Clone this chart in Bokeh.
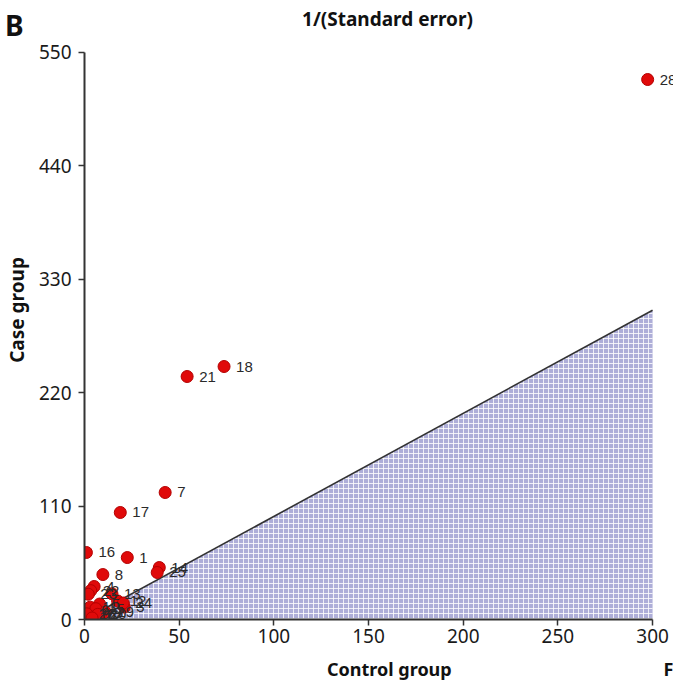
from bokeh.plotting import figure
from bokeh.models import ColumnDataSource, Range1d, FixedTicker, Label, LinearAxis
from bokeh.core.properties import value
from bokeh.embed import file_html
from bokeh.resources import INLINE

study_ids = [str(i) for i in range(1, 29)]
control_inv_se = [22.6, 4.5, 21.0, 5.1, 8.0, 2.5, 42.6, 9.7, 9.0, 1.5, 3.0, 17.5, 14.5, 39.5,
                  6.0, 1.0, 18.9, 73.7, 11.0, 7.0, 54.2, 3.3, 2.0, 20.5, 38.4, 1.2, 4.0, 297.4]
case_inv_se = [60.1, 4.0, 12.0, 32.0, 15.0, 9.0, 123.2, 43.6, 6.5, 2.0, 12.0, 18.0, 25.0, 50.4,
               10.5, 65.0, 103.8, 245.4, 7.0, 5.0, 235.7, 28.0, 24.5, 16.0, 45.6, 5.5, 1.5, 523.8]
x_ticks = [0, 50, 100, 150, 200, 250, 300]
y_ticks = [0, 110, 220, 330, 440, 550]
equal_line_x = [0, 300]
equal_line_y = [0, 300]

p = figure(width=673, height=684, output_backend="svg", toolbar_location=None,
           x_range=Range1d(0, 311.05), y_range=Range1d(0, 600.44),
           min_border_left=82, min_border_right=0, min_border_top=0, min_border_bottom=65)
p.outline_line_color = None
p.grid.visible = False
p.background_fill_color = "white"

# shaded region below the line of equality
p.patch(x=[equal_line_x[0], equal_line_x[1], equal_line_x[1]],
        y=[equal_line_y[0], equal_line_y[1], 0],
        fill_color="#aeaed8", line_color=None,
        hatch_pattern="+", hatch_color="white", hatch_scale=5, hatch_weight=1, hatch_alpha=0.8)
p.line(equal_line_x, equal_line_y, line_color="#333333", line_width=1.6)

src = ColumnDataSource(dict(x=control_inv_se, y=case_inv_se, lab=study_ids))
p.scatter("x", "y", source=src, size=12, fill_color="#e00a0a", line_color="#b30000", line_width=1)
p.text("x", "y", text="lab", source=src, x_offset=12, text_baseline="middle", text_align="left",
       text_font=value("Liberation Sans"), text_font_size="15px", text_color="#2a2a2a")

for ax in (p.xaxis[0], p.yaxis[0]):
    ax.axis_line_color = "#333333"
    ax.axis_line_width = 2
    ax.major_tick_line_color = "#333333"
    ax.major_tick_line_width = 1.5
    ax.major_tick_out = 6
    ax.major_tick_in = 0
    ax.minor_tick_line_color = None
    ax.major_label_text_font = "Noto Sans"
    ax.major_label_text_font_size = "19px"
    ax.major_label_text_color = "#1a1a1a"
    ax.axis_label_text_font = "Noto Sans"
    ax.axis_label_text_font_style = "bold"
    ax.axis_label_text_color = "#111111"

p.xaxis.bounds = (0, 300)
p.yaxis.bounds = (0, 550)
p.xaxis.ticker = FixedTicker(ticks=x_ticks)
p.yaxis.ticker = FixedTicker(ticks=y_ticks)
p.xaxis.major_label_standoff = 3
p.yaxis.major_label_standoff = 7
p.yaxis.axis_label = "Case group"
p.yaxis.axis_label_text_font_size = "19px"
p.yaxis.axis_label_standoff = 6

# outer left axis: carries the panel letter
letter_axis = LinearAxis(ticker=FixedTicker(ticks=[577]), major_label_overrides={577: "B"},
                         axis_line_color=None, major_tick_line_color=None, minor_tick_line_color=None,
                         major_tick_out=0, major_tick_in=0, major_label_standoff=-23,
                         major_label_text_font="Noto Sans", major_label_text_font_size="28px",
                         major_label_text_font_style="bold", major_label_text_color="#111111")
p.add_layout(letter_axis, "left")

# outer bottom axis: x title and the cut-off letter at the right edge
xtitle_axis = LinearAxis(ticker=FixedTicker(ticks=[161, 309]),
                         major_label_overrides={161: "Control group", 309: "F"},
                         axis_line_color=None, major_tick_line_color=None,
                         minor_tick_line_color=None, major_tick_out=0, major_tick_in=0,
                         major_label_standoff=11,
                         major_label_text_font="Noto Sans", major_label_text_font_size="18px",
                         major_label_text_font_style="bold", major_label_text_color="#111111")
p.add_layout(xtitle_axis, "below")

p.add_layout(Label(x=303, y=601, x_units="screen", y_units="screen", text="1/(Standard error)",
                   text_font="Noto Sans", text_font_size="19px", text_font_style="bold",
                   text_align="center", text_baseline="alphabetic", text_color="#111111"))

open("out.html", "w").write(file_html(p, INLINE))
